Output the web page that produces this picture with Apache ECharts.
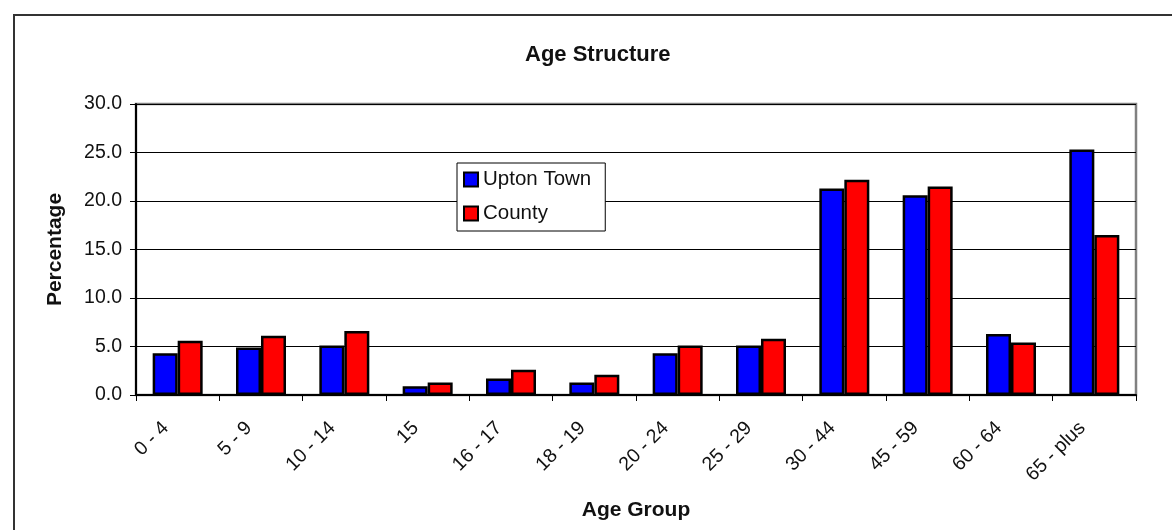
<!DOCTYPE html>
<html>
<head>
<meta charset="utf-8">
<script src="https://cdn.jsdelivr.net/npm/echarts@6/dist/echarts.min.js"></script>
<style>
html,body{margin:0;padding:0;background:#fff;}
#c{width:1172px;height:530px;}
</style>
</head>
<body>
<div id="c"></div>
<script>
const categories = ['0 - 4','5 - 9','10 - 14','15','16 - 17','18 - 19','20 - 24','25 - 29','30 - 44','45 - 59','60 - 64','65 - plus'];
const uptonTown = [4.3, 4.9, 5.1, 0.9, 1.7, 1.3, 4.3, 5.1, 21.3, 20.6, 6.3, 25.3];
const county = [5.6, 6.1, 6.6, 1.3, 2.6, 2.1, 5.1, 5.8, 22.2, 21.5, 5.4, 16.5];
const yTicks = [0, 5, 10, 15, 20, 25, 30];

const FONT = '"Liberation Sans", Arial, sans-serif';
const chart = echarts.init(document.getElementById('c'), null, {renderer: 'canvas'});
chart.setOption({
  backgroundColor: '#ffffff',
  animation: false,
  textStyle: {fontFamily: FONT},
  title: {
    text: 'Age Structure',
    left: 525, top: 44, padding: 0,
    textStyle: {fontFamily: FONT, fontSize: 22, fontWeight: 'bold', color: '#111'}
  },
  graphic: [{
    type: 'rect', z: -1, silent: true,
    shape: {x: 14, y: 15, width: 1200, height: 600},
    style: {fill: 'none', stroke: '#333', lineWidth: 2}
  }],
  legend: {
    orient: 'vertical',
    left: 457, top: 163,
    padding: [6, 14, 7, 6],
    itemGap: 13,
    itemWidth: 14, itemHeight: 14,
    icon: 'rect',
    backgroundColor: '#fff',
    borderColor: '#000', borderWidth: 1,
    textStyle: {fontFamily: FONT, fontSize: 20.5, color: '#111'},
    data: ['Upton Town', 'County']
  },
  grid: {
    left: 136, right: 36, top: 104, bottom: 135,
    show: true, borderColor: '#808080', borderWidth: 2.5, backgroundColor: '#fff'
  },
  xAxis: {
    type: 'category',
    data: categories,
    name: 'Age Group',
    nameLocation: 'middle',
    nameGap: 105,
    nameTextStyle: {fontFamily: FONT, fontSize: 21, fontWeight: 'bold', color: '#111'},
    axisLine: {show: true, lineStyle: {color: '#000', width: 2}},
    axisTick: {show: true, length: 6, lineStyle: {color: '#000', width: 1}},
    axisLabel: {interval: 0, rotate: 45, margin: 18, padding: [0, 17, 0, 0],
                fontFamily: FONT, fontSize: 19.5, color: '#111'},
    splitLine: {show: false}
  },
  yAxis: {
    type: 'value',
    min: yTicks[0], max: yTicks[yTicks.length - 1], interval: 5,
    name: 'Percentage',
    nameLocation: 'middle',
    nameRotate: 90,
    nameGap: 70,
    nameTextStyle: {fontFamily: FONT, fontSize: 21, fontWeight: 'bold', color: '#111'},
    axisLine: {show: true, lineStyle: {color: '#000', width: 2}},
    axisTick: {show: true, length: 6, lineStyle: {color: '#000', width: 1}},
    axisLabel: {margin: 14, fontFamily: FONT, fontSize: 19.5, color: '#111', formatter: v => v.toFixed(1)},
    splitLine: {show: true, lineStyle: {color: '#000', width: 1}}
  },
  series: [
    {name: 'Upton Town', type: 'bar', data: uptonTown, barWidth: 25, barGap: '0%',
     itemStyle: {color: '#0000ff', borderColor: '#000', borderWidth: 2.5}},
    {name: 'County', type: 'bar', data: county, barWidth: 25, barGap: '0%',
     itemStyle: {color: '#ff0000', borderColor: '#000', borderWidth: 2.5}}
  ]
});
</script>
</body>
</html>
